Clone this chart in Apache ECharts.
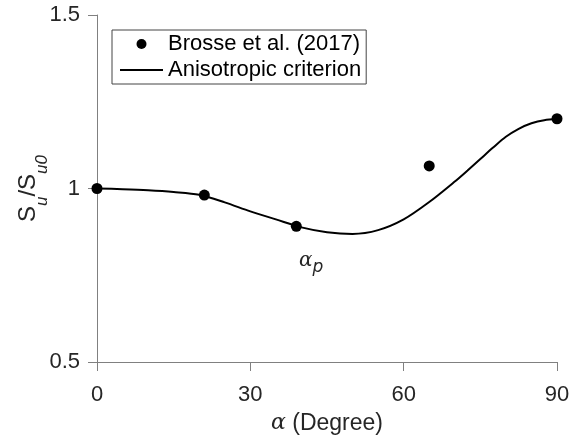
<!DOCTYPE html>
<html><head><meta charset="utf-8">
<script src="https://cdn.jsdelivr.net/npm/echarts@6/dist/echarts.min.js"></script>
<style>html,body{margin:0;padding:0;background:#fff}#c{width:569px;height:441px}</style>
</head><body><div id="c"></div>
<script>
// Experimental points (Brosse et al. 2017)
const expAlpha = [0, 21, 39, 65, 90];
const expRatio = [1.000, 0.981, 0.891, 1.065, 1.201];
// Anisotropic criterion curve
const curveAlpha = [0, 5, 10, 15, 20, 25, 30, 35, 40, 45, 50, 55, 60, 65, 70, 72.5, 75, 77.5, 80, 82.5, 85, 87.5, 90];
const curveRatio = [1.000, 0.998, 0.995, 0.990, 0.982, 0.960, 0.934, 0.911, 0.888, 0.874, 0.869, 0.880, 0.911, 0.961, 1.020, 1.052, 1.085, 1.118, 1.149, 1.172, 1.188, 1.197, 1.200];
const xTicks = [0, 30, 60, 90];
const yTicks = [0.5, 1, 1.5];

const font = 'Liberation Sans, Arial, sans-serif';
const chart = echarts.init(document.getElementById('c'));
chart.setOption({
  animation: false,
  backgroundColor: '#fff',
  grid: {left: 97, right: 12, top: 15, bottom: 79, containLabel: false, outerBoundsMode: 'none'},
  legend: {
    orient: 'vertical', left: 112, top: 30,
    padding: [3, 5, 3, 8], itemGap: 4,
    itemWidth: 43, itemHeight: 10, symbolKeepAspect: true,
    borderColor: '#444', borderWidth: 1, borderRadius: 0,
    textStyle: {fontFamily: font, fontSize: 22, color: '#000', lineHeight: 22},
    data: [
      {name: 'Brosse et al. (2017)', icon: 'circle'},
      {name: 'Anisotropic criterion', icon: 'path://M0,0h43v2h-43z'}
    ]
  },
  xAxis: {
    type: 'value', min: 0, max: 90, interval: 30,
    axisLine: {show: true, onZero: false, lineStyle: {color: '#808080', width: 1}},
    axisTick: {show: true, length: 9, lineStyle: {color: '#808080'}},
    splitLine: {show: false},
    axisLabel: {fontFamily: font, fontSize: 22, color: '#262626', margin: 22,
      formatter: v => xTicks.includes(v) ? String(v) : ''},
    name: '{a|α} (Degree)', nameLocation: 'middle', nameGap: 50, nameMoveOverlap: false,
    nameTextStyle: {fontFamily: font, fontSize: 23, color: '#262626',
      rich: {a: {fontFamily: 'DejaVu Serif, serif', fontStyle: 'italic', fontSize: 22, color: '#262626'}}}
  },
  yAxis: {
    type: 'value', min: 0.5, max: 1.5, interval: 0.5,
    axisLine: {show: true, onZero: false, lineStyle: {color: '#808080', width: 1}},
    axisTick: {show: true, length: 9, lineStyle: {color: '#808080'}},
    splitLine: {show: false},
    axisLabel: {fontFamily: font, fontSize: 22, color: '#262626', margin: 17,
      formatter: v => yTicks.includes(v) ? String(v) : ''},
    name: '{m|S}{s|u}{m|/S}{s|u0}', nameLocation: 'middle', nameRotate: 90, nameGap: 55, nameMoveOverlap: false,
    nameTextStyle: {fontFamily: font, fontSize: 23, color: '#262626',
      rich: {
        m: {fontFamily: font, fontSize: 24, color: '#262626', lineHeight: 28},
        s: {fontFamily: font, fontStyle: 'italic', fontSize: 17, color: '#262626', verticalAlign: 'bottom', lineHeight: 28, padding: [0,0,-9,0]}
      }}
  },
  series: [
    {name: 'Anisotropic criterion', type: 'line', smooth: 0.3, showSymbol: false, symbol: 'none',
     lineStyle: {color: '#000', width: 2}, itemStyle: {color: '#000'},
     data: curveAlpha.map((a, i) => [a, curveRatio[i]]), z: 2},
    {name: 'Brosse et al. (2017)', type: 'scatter', symbol: 'circle', symbolSize: 11,
     itemStyle: {color: '#000', opacity: 1},
     data: expAlpha.map((a, i) => [a, expRatio[i]]), z: 3}
  ],
  graphic: [{
    type: 'text', left: 299, top: 251,
    style: {
      text: '{a|α}{p|p}',
      rich: {
        a: {fontFamily: 'DejaVu Serif, serif', fontStyle: 'italic', fontSize: 20, fill: '#262626'},
        p: {fontFamily: 'DejaVu Sans, sans-serif', fontStyle: 'italic', fontSize: 17, fill: '#262626', padding: [14,0,0,0]}
      }
    }
  }]
});
</script></body></html>
